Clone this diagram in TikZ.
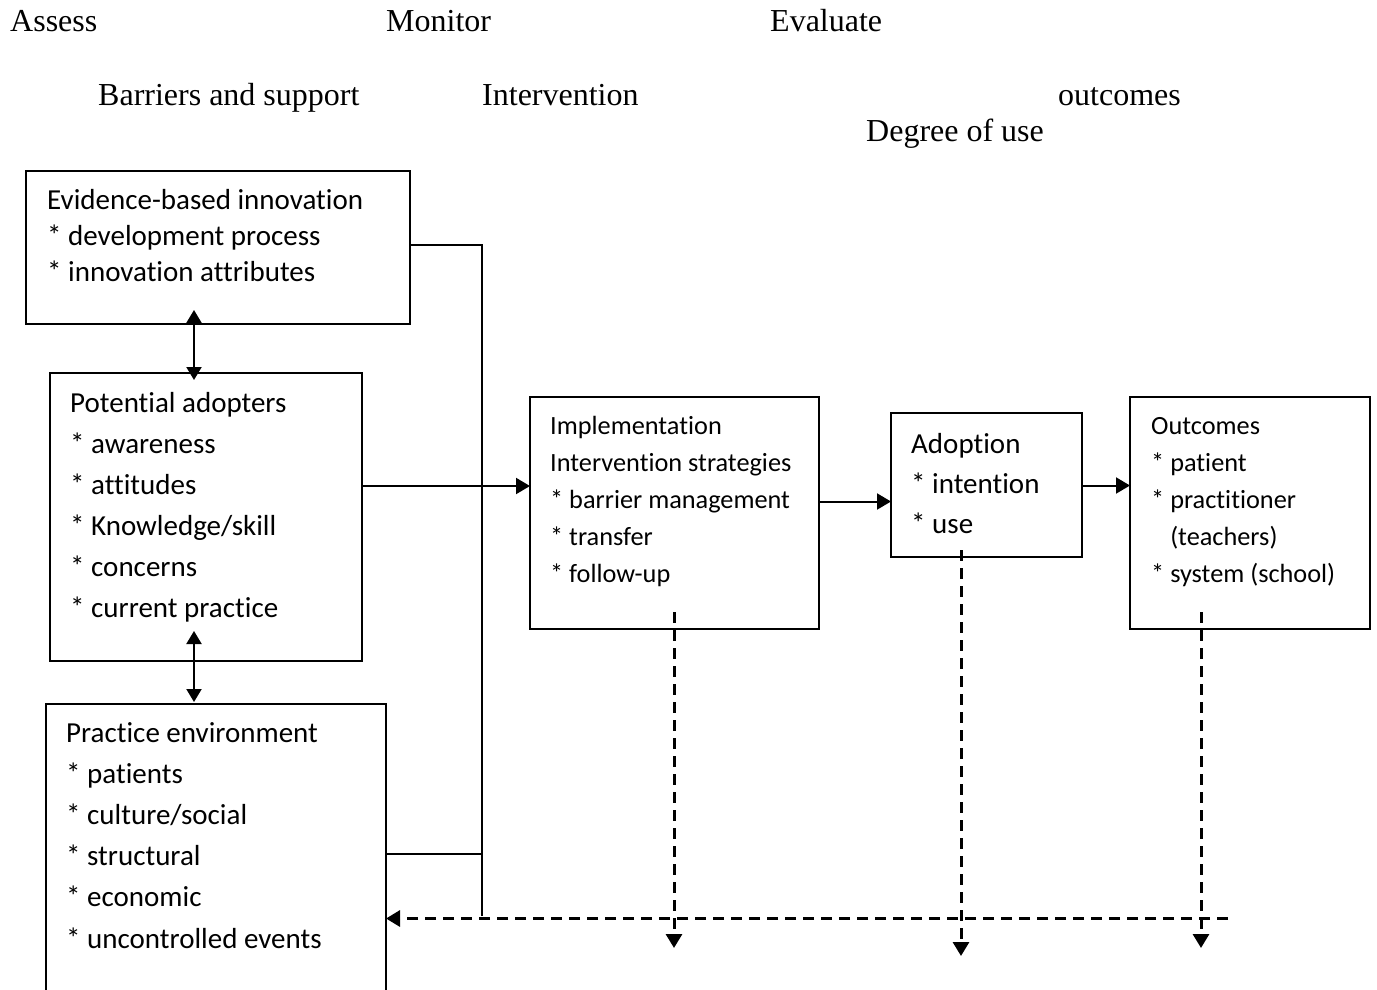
\documentclass[tikz,border=0pt]{standalone}
\usepackage{fontspec}
\setmainfont{Liberation Serif}
\newfontfamily\carl[Ligatures=NoCommon]{Carlito}
\usetikzlibrary{arrows.meta}
\begin{document}
\begin{tikzpicture}[x=1pt,y=-1pt,
  box/.style={draw, line width=2pt, anchor=north west, inner sep=0pt, outer sep=0pt},
  big/.style={anchor=base west, inner sep=0pt, align=left, font=\carl\fontsize{29}{41}\selectfont},
  small/.style={anchor=base west, inner sep=0pt, align=left, font=\carl\fontsize{26.3}{37}\selectfont},
  head/.style={anchor=base west, inner sep=0pt, font=\fontsize{32}{38}\selectfont},
  tiparrow/.style={-{Triangle[width=16pt,length=14pt]}},
  conn/.style={line width=2pt},
  dashline/.style={line width=3pt, dash pattern=on 11pt off 7pt}
]
\useasboundingbox (0,0) rectangle (1377,989);
\clip (0,0) rectangle (1377,989);

% top labels
\node[head] (assess) at (10,31.5) {Assess};
\node[head] (monitor) at (386,31.5) {Monitor};
\node[head] (evaluate) at (770,31.5) {Evaluate};
\node[head] (barriers) at (98,105) {Barriers and support};
\node[head] (interv) at (482,105) {Intervention};
\node[head] (outc) at (1058,105) {outcomes};
\node[head] (degree) at (866,141.5) {Degree of use};

% boxes
\node[box, minimum width=384pt, minimum height=153pt] (ev) at (26,171) {};
\node[box, minimum width=312pt, minimum height=288pt] (pa) at (50,373) {};
\node[box, minimum width=340pt, minimum height=320pt] (pr) at (46,704) {};
\node[box, minimum width=289pt, minimum height=232pt] (im) at (530,397) {};
\node[box, minimum width=191pt, minimum height=144pt] (ad) at (891,413) {};
\node[box, minimum width=240pt, minimum height=232pt] (oc) at (1130,397) {};

% box texts (anchored at the baseline of their last line)
\node[big, font=\carl\fontsize{29}{36}\selectfont] (evt) at (47,281)
  {Evidence-based innovation\\* development process\\* innovation attributes};
\node[big] (pat) at (70,617)
  {Potential adopters\\* awareness\\* attitudes\\* Knowledge/skill\\* concerns\\* current practice};
\node[big, font=\carl\fontsize{29}{41.2}\selectfont] (prt) at (66,948)
  {Practice environment\\* patients\\* culture/social\\* structural\\* economic\\* uncontrolled events};
\node[small] (imt) at (550,582.5)
  {Implementation\\Intervention strategies\\* barrier management\\* transfer\\* follow-up};
\node[big, font=\carl\fontsize{29}{40}\selectfont] (adt) at (911,533)
  {Adoption\\* intention\\* use};
\node[small] (oct) at (1151,582.5)
  {Outcomes\\* patient\\* practitioner\\\phantom{* }(teachers)\\* system (school)};

% coordinates for free ends
\coordinate (a1) at (194,310);
\coordinate (a2) at (194,380);
\coordinate (b1) at (194,631);
\coordinate (b2) at (194,702);
\coordinate (cx) at (482,245);
\coordinate (cy) at (482,916);
\coordinate (d1s) at (674,612);
\coordinate (d1e) at (674,948);
\coordinate (d2s) at (961,550);
\coordinate (d2e) at (961,956);
\coordinate (d3s) at (1201,612);
\coordinate (d3e) at (1201,948);
\coordinate (hs) at (1228,918.5);

% solid connectors
\draw[conn, {Triangle[width=15pt,length=13pt]}-{Triangle[width=15pt,length=13pt]}] (a1) -- (a2);
\draw[conn, {Triangle[width=15pt,length=13pt]}-{Triangle[width=15pt,length=13pt]}] (b1) -- (b2);
\draw[conn] (ev.east |- cx) -- (cx) -- (cy);
\draw[conn] (pr.east |- 0,854) -- (cx |- 0,854);
\draw[conn, tiparrow] (pa.east |- 0,486) -- (im.west |- 0,486);
\draw[conn, tiparrow] (im.east |- 0,501.5) -- (ad.west |- 0,501.5);
\draw[conn, tiparrow] (ad.east |- 0,485.5) -- (oc.west |- 0,485.5);

% dashed connectors
\draw[dashline, tiparrow] (hs) -- (hs -| pr.east);
\draw[dashline, tiparrow] (d1s) -- (d1e);
\draw[dashline, tiparrow] (d2s) -- (d2e);
\draw[dashline, tiparrow] (d3s) -- (d3e);
\end{tikzpicture}
\end{document}
